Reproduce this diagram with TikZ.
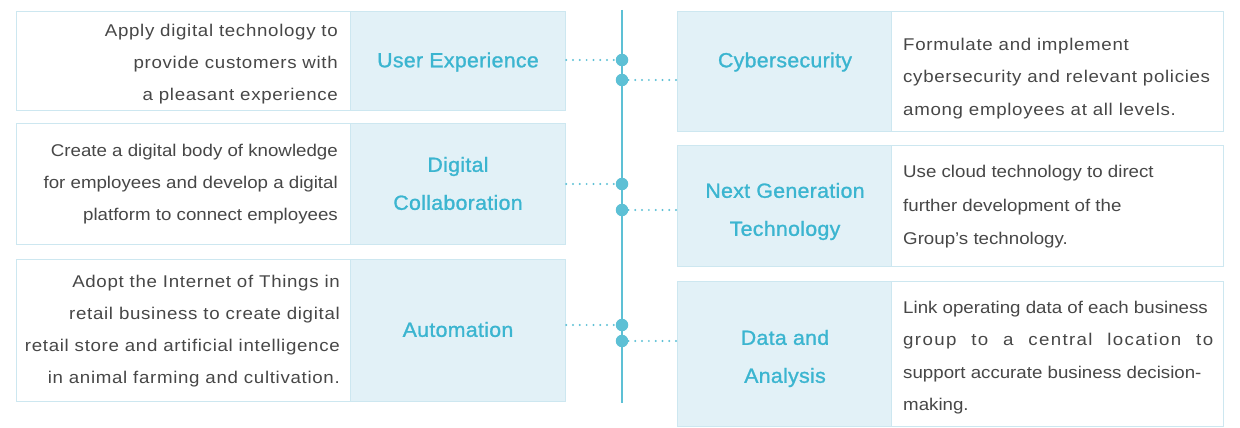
\documentclass[tikz,border=0pt]{standalone}
\usepackage{fontspec}
\setmainfont{Liberation Sans}
\newfontfamily\titlefont[FakeBold=1.2,FakeStretch=1.04,LetterSpace=1.5]{Liberation Sans}
\newfontfamily\bodyA[FakeStretch=1.1,LetterSpace=4]{Liberation Sans}
\newfontfamily\bodyB[FakeStretch=1.1]{Liberation Sans}
\newfontfamily\bodyW[FakeStretch=1.1,LetterSpace=8]{Liberation Sans}
\definecolor{cyanT}{HTML}{3BB5D0}
\definecolor{fillT}{HTML}{E2F1F7}
\definecolor{edgeT}{HTML}{CDE7F0}
\definecolor{lineT}{HTML}{5DC0D5}
\definecolor{bodyT}{HTML}{474747}
\tikzset{
  titlebox/.style={draw=edgeT, line width=1.2pt, fill=fillT, anchor=north west, inner sep=0pt},
  descbox/.style={draw=edgeT, line width=1.2pt, fill=white, anchor=north west, inner sep=0pt},
  titletext/.style={text=cyanT, font=\titlefont\fontsize{20.5}{38}\selectfont, align=center, inner sep=0pt},
  lefttext/.style={text=bodyT, align=right, anchor=east, inner sep=0pt},
  righttext/.style={text=bodyT, align=left, anchor=west, inner sep=0pt},
  dotlink/.style={draw=lineT, line width=2.2pt, line cap=round, dash pattern=on 0pt off 6.8pt},
  hub/.style={circle, fill=lineT, minimum size=12.5pt, inner sep=0pt},
}
\begin{document}
\begin{tikzpicture}[x=1pt,y=-1pt]
\useasboundingbox (0,0) rectangle (1240,428);
% spine
\coordinate (top) at (622,10);
\coordinate (bot) at (622,403);
\draw[lineT, line width=1.6pt] (top) -- (bot);
% left boxes
\node[descbox, minimum width=334pt, minimum height=99pt] (ld1) at (16,11) {};
\node[titlebox, minimum width=215pt, minimum height=99pt] (lt1) at (350,11) {};
\node[descbox, minimum width=334pt, minimum height=121pt] (ld2) at (16,123) {};
\node[titlebox, minimum width=215pt, minimum height=121pt] (lt2) at (350,123) {};
\node[descbox, minimum width=334pt, minimum height=142pt] (ld3) at (16,259) {};
\node[titlebox, minimum width=215pt, minimum height=142pt] (lt3) at (350,259) {};
% right boxes
\node[titlebox, minimum width=214pt, minimum height=120pt] (rt1) at (677,11) {};
\node[descbox, minimum width=332pt, minimum height=120pt] (rd1) at (891,11) {};
\node[titlebox, minimum width=214pt, minimum height=121pt] (rt2) at (677,145) {};
\node[descbox, minimum width=332pt, minimum height=121pt] (rd2) at (891,145) {};
\node[titlebox, minimum width=214pt, minimum height=145pt] (rt3) at (677,281) {};
\node[descbox, minimum width=332pt, minimum height=145pt] (rd3) at (891,281) {};
% titles
\node[titletext] (lt1t) at (458,62) {User Experience};
\node[titletext] (lt2t) at (458,183.5) {Digital\\Collaboration};
\node[titletext] (lt3t) at (458,329.5) {Automation};
\node[titletext] (rt1t) at (785,62) {Cybersecurity};
\node[titletext] (rt2t) at (785,211.5) {Next Generation\\Technology};
\node[titletext] (rt3t) at (785,358.5) {Data and\\Analysis};
% left descriptions
\node[lefttext, font=\bodyA\fontsize{17}{32}\selectfont] (ld1t) at (338,64) {Apply digital technology to\\provide customers with\\a pleasant experience};
\node[lefttext, font=\bodyB\fontsize{17}{32}\selectfont] (ld2t) at (338,184) {Create a digital body of knowledge\\for employees and develop a digital\\platform to connect employees};
\node[lefttext, font=\bodyA\fontsize{17}{32}\selectfont] (ld3t) at (340,331) {Adopt the Internet of Things in\\retail business to create digital\\retail store and artificial intelligence\\in animal farming and cultivation.};
% right descriptions
\node[righttext, font=\bodyA\fontsize{17}{32.5}\selectfont] (rd1t) at (903,78.5) {Formulate and implement\\cybersecurity and relevant policies\\among employees at all levels.};
\node[righttext, font=\bodyB\fontsize{17}{33.5}\selectfont] (rd2t) at (903,207) {Use cloud technology to direct\\further development of the\\Group’s technology.};
\node[righttext, font=\bodyB\fontsize{17}{32.3}\selectfont] (rd3t) at (903,357.5) {Link operating data of each business\\{\bodyW\makebox[310pt][s]{group to a central location to}}\\support accurate business decision-\\making.};
% hubs
\node[hub] (h1) at (622,60) {};
\node[hub] (h2) at (622,80) {};
\node[hub] (h3) at (622,184) {};
\node[hub] (h4) at (622,210) {};
\node[hub] (h5) at (622,325) {};
\node[hub] (h6) at (622,341) {};
% dotted links
\draw[dotlink] (lt1.east |- h1) -- (h1.west);
\draw[dotlink] (h2.east) -- (rt1.west |- h2);
\draw[dotlink] (lt2.east |- h3) -- (h3.west);
\draw[dotlink] (h4.east) -- (rt2.west |- h4);
\draw[dotlink] (lt3.east |- h5) -- (h5.west);
\draw[dotlink] (h6.east) -- (rt3.west |- h6);
\end{tikzpicture}
\end{document}
